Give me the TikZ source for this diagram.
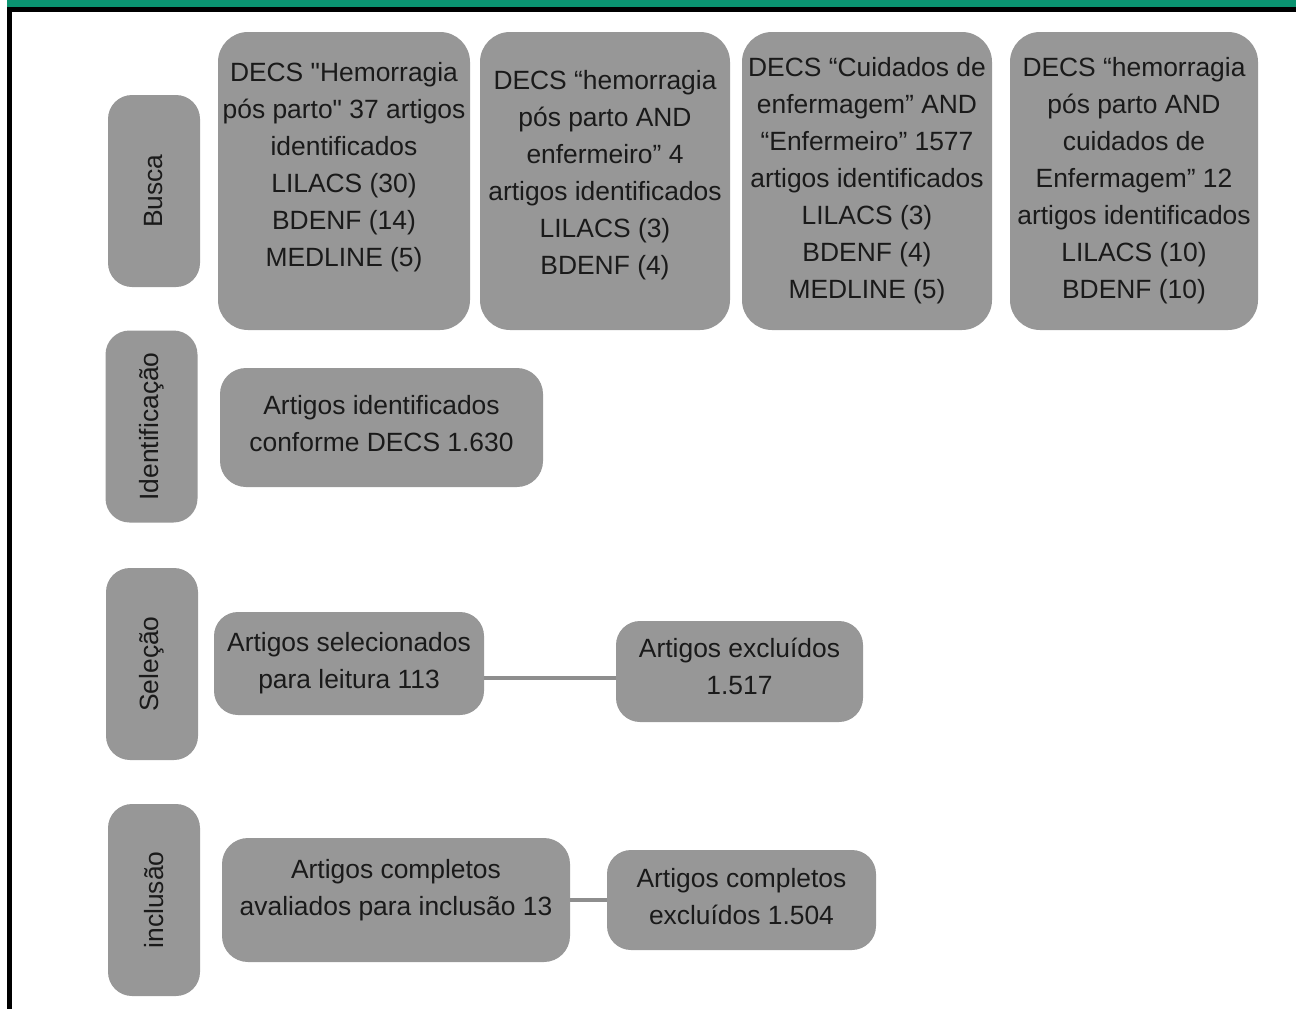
\documentclass[tikz,border=0pt]{standalone}
\usepackage{fontspec}
\setmainfont{Liberation Sans}
\usetikzlibrary{positioning,calc}
\definecolor{boxgray}{HTML}{979797}
\definecolor{linkgray}{HTML}{8E8E8E}
\definecolor{bargreen}{HTML}{0A9370}
\definecolor{inkgray}{HTML}{1A1A1A}
\newcommand{\fsz}{\fontsize{26.4}{37}\selectfont}
\newcommand{\mstage}[3]{
  \node[stage] (#1) at #2 {#3};
}
\newcommand{\mitem}[7][]{
  \node[item,minimum width=#4,minimum height=#5,rounded corners=#6,#1] (#2) at #3 {#7};
}

\begin{document}
\begin{tikzpicture}[x=1pt,y=-1pt,
    stage/.style={fill=boxgray,text=inkgray,font=\fsz,rotate=90,
      minimum width=192pt,minimum height=92pt,rounded corners=24pt,inner sep=2pt},
    item/.style={fill=boxgray,text=inkgray,font=\fsz,align=center,inner sep=2pt},
    link/.style={draw=linkgray,line width=4pt}]
  \useasboundingbox (0,0) rectangle (1296,1009);
  % frame
  \fill[bargreen] (7,0) rectangle (1296,7);
  \fill[black] (7,7) rectangle (1296,12);
  \fill[black] (7,7) rectangle (12,1009);

  % stages
  \mstage{busca}{(154,191)}{Busca}
  \mstage{ident}{(151.5,426.5)}{Identificação}
  \mstage{selec}{(152,664)}{Seleção}
  \mstage{incl}{(154,900)}{inclusão}

  % busca
  \mitem[text depth=33pt]{hpp}{(344,181)}{252pt}{298pt}{30pt}{DECS \textquotedbl Hemorragia\\pós parto\textquotedbl{} 37 artigos\\identificados\\LILACS (30)\\BDENF (14)\\MEDLINE (5)}
  \mitem[text depth=17pt]{hppenf}{(605,181)}{250pt}{298pt}{30pt}{DECS “hemorragia\\pós parto AND\\enfermeiro” 4\\artigos identificados\\LILACS (3)\\BDENF (4)}
  \mitem{cuid}{(867,181)}{250pt}{298pt}{30pt}{DECS “Cuidados de\\enfermagem” AND\\“Enfermeiro” 1577\\artigos identificados\\LILACS (3)\\BDENF (4)\\MEDLINE (5)}
  \mitem{hppcuid}{(1134,181)}{248pt}{298pt}{30pt}{DECS “hemorragia\\pós parto AND\\cuidados de\\Enfermagem” 12\\artigos identificados\\LILACS (10)\\BDENF (10)}

  % identificacao
  \mitem[text depth=8pt]{artid}{(381.5,427.5)}{323pt}{119pt}{26pt}{Artigos identificados\\conforme DECS 1.630}

  % selecao
  \mitem{artsel}{(349,663.5)}{270pt}{103pt}{24pt}{Artigos selecionados\\para leitura 113}
  \mitem[text depth=10pt]{artexc}{(739.5,671.5)}{247pt}{101pt}{24pt}{Artigos excluídos\\1.517}
  \coordinate (selmid) at ([yshift=-14pt]artsel.east);
  \draw[link] (selmid) -- (selmid -| artexc.west);

  % inclusao
  \mitem[text depth=25pt]{artcomp}{(396,900)}{348pt}{124pt}{26pt}{Artigos completos\\avaliados para inclusão 13}
  \mitem[text depth=8pt]{artcexc}{(741.5,900)}{269pt}{100pt}{24pt}{Artigos completos\\excluídos 1.504}
  \draw[link] (artcomp.east) -- (artcomp.east -| artcexc.west);
\end{tikzpicture}
\end{document}
